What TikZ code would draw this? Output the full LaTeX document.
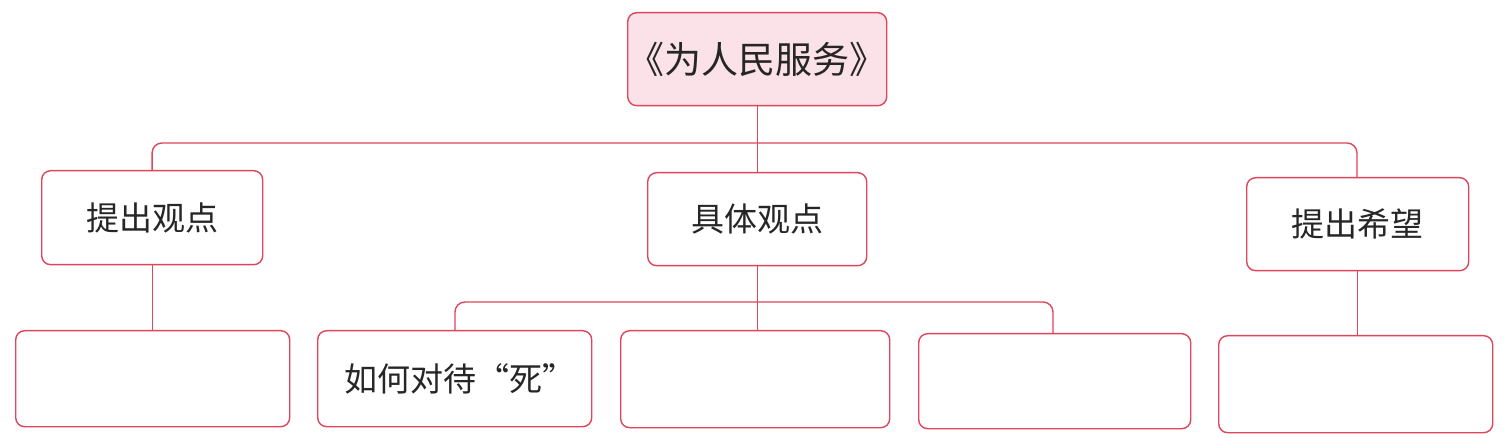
\documentclass[tikz,border=0pt]{standalone}
\usepackage{fontspec}
\setmainfont{Noto Sans CJK SC}
\begin{document}
\begin{tikzpicture}[x=1pt,y=-1pt,
  line/.style={draw=lc, line width=1.4pt, rounded corners=10pt},
  box/.style={draw=lc, line width=1.4pt, rounded corners=9pt, fill=white, inner sep=0pt, anchor=north west},
  lbl/.style={font=\fontsize{33}{36}\selectfont, text=black!85}]
\definecolor{lc}{RGB}{222,70,92}
\definecolor{topfill}{RGB}{251,226,232}
\useasboundingbox (0,0) rectangle (1510,438);
\fill[white] (0,0) rectangle (1510,438);
% nodes
\node[box, fill=topfill, minimum width=259pt, minimum height=93pt] (top) at (627,12) {};
\node[lbl, font=\fontsize{37}{40}\selectfont] at (top.center) {《为人民服务》};
\node[box, minimum width=221pt, minimum height=94pt] (a) at (41,170) {};
\node[lbl] at (a.center) {提出观点};
\node[box, minimum width=219pt, minimum height=93pt] (b) at (647,172) {};
\node[lbl] at (b.center) {具体观点};
\node[box, minimum width=222pt, minimum height=93pt] (c) at (1246,177) {};
\node[lbl] at (c.center) {提出希望};
\node[box, minimum width=274pt, minimum height=96pt] (a1) at (15,330) {};
\node[box, minimum width=274pt, minimum height=96pt] (b1) at (317,330) {};
\node[lbl, anchor=west] at ([xshift=24pt]b1.west) {如何对待“死”};
\node[box, minimum width=269pt, minimum height=97pt] (b2) at (620,330) {};
\node[box, minimum width=272pt, minimum height=95pt] (b3) at (918,333) {};
\node[box, minimum width=274pt, minimum height=97pt] (c1) at (1218,335) {};
% connectors
\coordinate (busL) at (152,143);
\coordinate (busR) at (1357,143);
\coordinate (subL) at (455,302);
\coordinate (subR) at (1053,302);
\begin{scope}[on background layer/.style={}]
\draw[line] (top.south) -- (top.south |- busL);
\draw[line] (a.north) -- (busL) -- (busR) -- (c.north -| busR);
\draw[line] (top.south |- busL) -- (b.north);
\draw[line] (a.south) -- (a1.north -| a.south);
\draw[line] (b.south) -- (b2.north -| b.south);
\draw[line] (b1.north -| subL) -- (subL) -- (subR) -- (b3.north -| subR);
\draw[line] (c.south) -- (c1.north -| c.south);
\end{scope}
\end{tikzpicture}
\end{document}
